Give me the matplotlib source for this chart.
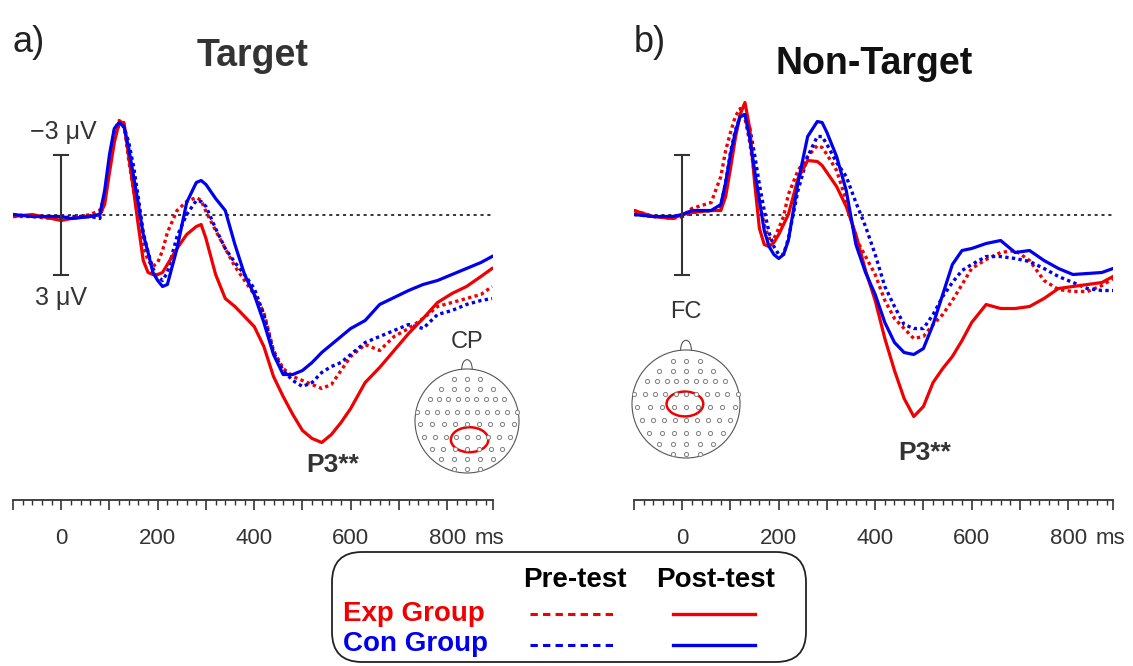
import matplotlib
matplotlib.use('Agg')
import matplotlib.pyplot as plt
import numpy as np
from matplotlib.patches import Circle, Ellipse, Arc, FancyBboxPatch
from matplotlib.ticker import FixedLocator, FuncFormatter

plt.rcParams['font.family'] = ['Liberation Sans', 'DejaVu Sans']

# time axis (ms) shared by all waveforms
t_ms = [-100, -60, -20, 0, 20, 60, 80, 90, 100, 110, 120, 130, 140, 150, 160, 170,
        180, 190, 200, 210, 220, 240, 260, 280, 290, 300, 320, 340, 360, 380, 400,
        420, 440, 460, 480, 500, 520, 540, 560, 580, 600, 630, 660, 690, 720, 750,
        780, 810, 840, 870, 893]

# a) Target, CP cluster (uV, negative up)
tgt_exp_pre = [0.1, 0.1, 0.2, 0.2, 0.2, 0.0, -0.2, -0.9, -2.7, -4.2, -4.7, -4.5, -2.7, -1.2,
               0.2, 1.6, 2.3, 2.6, 2.4, 1.8, 0.9, -0.2, -0.65, -0.85, -0.7, -0.15, 0.8,
               1.7, 2.6, 3.3, 4.0, 4.9, 6.8, 7.7, 8.1, 8.3, 8.5, 8.7, 8.5, 7.8, 7.1, 6.5,
               6.8, 6.1, 5.7, 5.2, 4.6, 4.4, 4.2, 4.0, 3.6]
tgt_con_pre = [0.0, 0.1, 0.1, 0.2, 0.1, 0.1, 0.2, -0.8, -2.2, -3.8, -4.5, -4.4, -3.6, -2.4,
               -0.8, 0.9, 1.9, 2.7, 3.1, 3.3, 2.9, 1.1, 0.0, -0.7, -0.65, -0.4, 0.7, 1.7,
               2.4, 3.0, 3.7, 5.0, 6.9, 7.8, 8.3, 8.6, 8.4, 7.9, 7.6, 7.4, 7.0, 6.4, 6.1,
               5.8, 5.5, 5.7, 5.0, 4.8, 4.5, 4.3, 4.2]
tgt_exp_post = [0.1, 0.0, 0.2, 0.3, 0.2, 0.1, 0.0, -0.5, -2.1, -3.6, -4.6, -4.6, -2.9, -1.2,
                0.6, 2.3, 2.9, 3.0, 3.0, 2.9, 2.5, 1.7, 1.0, 0.6, 0.5, 1.2, 3.0, 4.2, 4.6,
                5.1, 5.6, 6.6, 8.1, 9.1, 10.0, 10.8, 11.2, 11.4, 11.0, 10.4, 9.7, 8.4,
                7.65, 6.8, 5.95, 5.2, 4.4, 3.95, 3.6, 3.1, 2.7]
tgt_con_post = [0.0, 0.1, 0.1, 0.1, 0.2, 0.1, 0.0, -1.2, -3.0, -4.3, -4.6, -4.4, -3.3, -1.9,
                -0.5, 1.0, 1.9, 2.9, 3.3, 3.6, 3.5, 1.7, -0.6, -1.6, -1.7, -1.5, -0.8,
                -0.2, 1.5, 3.0, 4.0, 5.4, 7.0, 8.0, 8.0, 7.8, 7.4, 6.9, 6.5, 6.1, 5.7,
                5.3, 4.5, 4.15, 3.8, 3.5, 3.3, 3.0, 2.7, 2.4, 2.1]

# b) Non-Target, FC cluster
ntg_exp_pre = [-0.2, 0.1, 0.2, 0.1, -0.3, -0.6, -1.9, -3.2, -4.1, -4.9, -5.3, -4.8, -3.6,
               -2.0, -0.6, 0.5, 1.2, 1.2, 0.7, 0.1, -1.0, -2.2, -2.9, -3.45, -3.35, -3.0,
               -2.2, -0.7, 1.2, 2.1, 3.0, 4.3, 5.2, 5.7, 6.2, 6.1, 5.5, 5.0, 4.3, 3.5,
               2.7, 2.25, 1.9, 1.8, 2.3, 3.3, 3.75, 3.85, 3.85, 3.55, 3.2]
ntg_con_pre = [0.0, 0.1, 0.1, 0.1, -0.1, -0.2, -0.4, -1.6, -3.1, -4.2, -4.9, -5.0, -4.3,
               -3.0, -1.5, -0.2, 0.9, 1.6, 2.0, 2.0, 1.2, -1.2, -2.9, -3.9, -3.9, -3.5,
               -2.6, -1.9, -0.6, 0.6, 2.0, 3.6, 4.6, 5.5, 5.7, 5.7, 5.0, 4.1, 3.4, 2.8,
               2.5, 2.1, 2.1, 2.2, 2.35, 2.7, 3.1, 3.4, 3.7, 3.8, 3.8]
ntg_exp_post = [-0.2, 0.1, 0.2, 0.0, -0.1, -0.2, -0.2, -0.9, -2.3, -3.8, -5.0, -5.6, -4.3,
                -1.6, 0.7, 1.5, 1.6, 1.4, 1.0, 0.5, 0.0, -1.8, -2.7, -2.65, -2.45, -2.1,
                -1.4, -0.4, 1.0, 2.8, 4.3, 6.2, 7.8, 9.2, 10.1, 9.6, 8.4, 7.7, 7.1, 6.3,
                5.4, 4.5, 4.7, 4.7, 4.6, 4.2, 3.7, 3.6, 3.5, 3.4, 3.1]
ntg_con_post = [0.0, 0.1, 0.1, 0.0, -0.2, -0.2, -0.5, -1.6, -3.0, -4.1, -4.9, -5.0, -3.8,
                -2.2, -0.7, 0.8, 1.6, 2.0, 2.2, 2.0, 1.3, -1.6, -3.9, -4.65, -4.6, -4.1,
                -2.9, -1.2, 1.5, 2.9, 4.0, 5.4, 6.4, 6.9, 7.0, 6.7, 5.5, 4.0, 2.5, 1.8,
                1.7, 1.45, 1.3, 1.9, 1.8, 2.3, 2.7, 3.0, 2.95, 2.9, 2.7]

tick_labels = {0: '0', 200: '200', 400: '400', 600: '600', 800: '800'}

# electrode montage rows for the head insets (y, count, half width)
row_y = [0.80, 0.62, 0.42, 0.18, -0.06, -0.30, -0.54, -0.74, -0.92]
row_n = [3, 5, 9, 11, 9, 9, 7, 5, 3]
row_half = [0.25, 0.50, 0.72, 0.96, 0.90, 0.82, 0.68, 0.50, 0.25]

RED = '#f00000'
BLUE = '#0000ee'
GREY = '#333333'

W, H = 1133, 666
fig = plt.figure(figsize=(W / 100, H / 100), dpi=100)


def px_axes(x0, y0, x1, y1):
    return fig.add_axes([x0 / W, 1 - y1 / H, (x1 - x0) / W, (y1 - y0) / H])


def draw_panel(ax, exp_pre, con_pre, exp_post, con_post, xmax, bar_labels):
    ax.axhline(0, color='black', lw=1.1, ls=(0, (2, 2.5)), zorder=1)
    dot = (0, (1, 1))
    ax.plot(t_ms, exp_pre, color=RED, lw=2.4, ls=dot, zorder=2)
    ax.plot(t_ms, con_pre, color=BLUE, lw=2.4, ls=dot, zorder=2)
    ax.plot(t_ms, exp_post, color=RED, lw=2.3, zorder=3)
    ax.plot(t_ms, con_post, color=BLUE, lw=2.3, zorder=3)
    # scale bar
    ax.plot([0, 0], [-3, 3], color=GREY, lw=1.5, zorder=4)
    ax.plot([-14, 14], [-3, -3], color=GREY, lw=1.5, zorder=4)
    ax.plot([-14, 14], [3, 3], color=GREY, lw=1.5, zorder=4)
    if bar_labels:
        ax.text(5, -4.15, '\u22123 \u03bcV', ha='center', va='center', fontsize=18, color=GREY)
        ax.text(0, 4.15, '3 \u03bcV', ha='center', va='center', fontsize=18, color=GREY)
    ax.set_xlim(-100, xmax)
    ax.set_ylim(14.275, -7.725)
    for s in ['left', 'right', 'top']:
        ax.spines[s].set_visible(False)
    ax.spines['bottom'].set_bounds(-100, xmax)
    ax.spines['bottom'].set_color(GREY)
    ax.spines['bottom'].set_linewidth(1.3)
    ax.set_yticks([])
    ax.xaxis.set_major_locator(FixedLocator(list(range(-100, 900, 100)) + [xmax]))
    ax.xaxis.set_minor_locator(FixedLocator(list(range(-100, 890, 20))))
    ax.xaxis.set_major_formatter(FuncFormatter(lambda v, p: tick_labels.get(int(round(v)), '')))
    ax.tick_params(axis='x', which='major', direction='out', length=7, width=1.2,
                   color=GREY, labelsize=16, labelcolor=GREY, pad=13)
    ax.tick_params(axis='x', which='minor', direction='out', length=3.5, width=1.0, color=GREY)
    ax.text(887, -0.0645, 'ms', transform=ax.get_xaxis_transform(), ha='center', va='top',
            fontsize=16, color=GREY)
    ax.patch.set_visible(False)


def draw_head(cx, cy, r, label, label_y, ell_center, ell_w, ell_h):
    hax = px_axes(cx - 1.3 * r, cy - 1.3 * r, cx + 1.3 * r, cy + 1.3 * r)
    hax.set_xlim(-1.3, 1.3)
    hax.set_ylim(-1.3, 1.3)
    hax.axis('off')
    hax.add_patch(Circle((0, 0), 1, fill=False, ec='#555555', lw=0.8))
    hax.add_patch(Arc((0, 1.0), 0.2, 0.36, theta1=0, theta2=180, ec='#555555', lw=0.8))
    for y, n, hw in zip(row_y, row_n, row_half):
        xs = np.linspace(-hw, hw, n)
        hax.plot(xs, [y] * n, ls='none', marker='o', ms=3.0, mfc='white', mec='#808080', mew=0.7)
    hax.add_patch(Ellipse(ell_center, ell_w, ell_h, fill=False, ec=RED, lw=1.8))
    hax.text(0, label_y, label, ha='center', va='center', fontsize=17, color=GREY)


axL = px_axes(13, 60, 493, 500)
draw_panel(axL, tgt_exp_pre, tgt_con_pre, tgt_exp_post, tgt_con_post, 895, True)
axL.text(563, 12.5, 'P3**', ha='center', va='center', fontsize=19, fontweight='bold', color=GREY)

axR = px_axes(634, 60, 1113, 500)
draw_panel(axR, ntg_exp_pre, ntg_con_pre, ntg_exp_post, ntg_con_post, 893, False)
axR.text(503, 11.9, 'P3**', ha='center', va='center', fontsize=19, fontweight='bold', color=GREY)

draw_head(467, 421, 52, 'CP', 1.52, (0.05, -0.36), 0.72, 0.48)
draw_head(686, 404, 54, 'FC', 1.70, (-0.02, 0.0), 0.68, 0.46)

# overlay in pixel units for titles and the legend box
ov = fig.add_axes([0, 0, 1, 1], zorder=-1)
ov.set_xlim(0, W)
ov.set_ylim(H, 0)
ov.axis('off')
ov.text(12, 52, 'a)', fontsize=26, color='#222222', va='baseline')
ov.text(634, 52, 'b)', fontsize=26, color='#222222', va='baseline')
ov.text(253, 66, 'Target', fontsize=27, fontweight='bold', color=GREY, ha='center', va='baseline')
ov.text(874, 74, 'Non-Target', fontsize=27, fontweight='bold', color='#111111', ha='center',
        va='baseline')

ov.add_patch(FancyBboxPatch((332, 552), 474, 110, boxstyle='round,pad=0,rounding_size=30',
                            fc='white', ec='#222222', lw=1.3))
ov.text(575, 580, 'Pre-test', fontsize=20, fontweight='bold', ha='center', va='center')
ov.text(716, 580, 'Post-test', fontsize=20, fontweight='bold', ha='center', va='center')
ov.text(343, 614, 'Exp Group', fontsize=20, fontweight='bold', color=RED, va='center')
ov.text(343, 644, 'Con Group', fontsize=20, fontweight='bold', color=BLUE, va='center')
ov.plot([530, 613], [614, 614], color=RED, lw=2.2, ls=(0, (2.4, 1.7)))
ov.plot([530, 613], [645, 645], color=BLUE, lw=2.2, ls=(0, (2.4, 1.7)))
ov.plot([673, 755], [614, 614], color=RED, lw=2.4)
ov.plot([673, 755], [645, 645], color=BLUE, lw=2.4)

fig.savefig('out.png', dpi=100)
